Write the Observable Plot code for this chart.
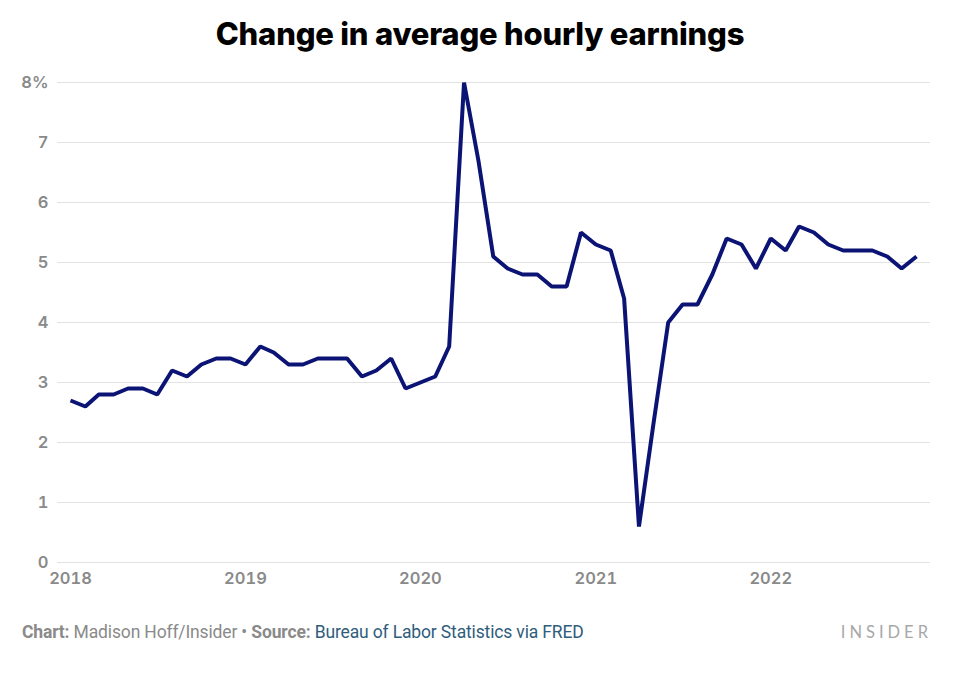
<!DOCTYPE html>
<html>
<head>
<meta charset="utf-8">
<script src="https://cdn.jsdelivr.net/npm/d3@7"></script>
<script src="https://cdn.jsdelivr.net/npm/@observablehq/plot@0.6"></script>
<style>
  html, body { margin: 0; padding: 0; background: #fff; }
  body { width: 960px; height: 677px; position: relative; font-family: Inter, "Noto Sans", sans-serif; overflow: hidden; }
  #title { position: absolute; top: 15px; left: 0; width: 960px; text-align: center; font-size: 31px; font-weight: 800; color: #000; letter-spacing: -0.2px; }
  #chart { position: absolute; top: 60px; left: 0; }
  #footer { position: absolute; top: 622px; left: 22px; font-family: Roboto, "Liberation Sans", sans-serif; font-size: 17.5px; color: #8a8a8a; letter-spacing: -0.15px; }
  #footer b { font-weight: 700; color: #8a8a8a; }
  #footer .src { color: #2f5d7c; }
  #brand { position: absolute; top: 622px; right: 28px; font-family: Lato, "Noto Sans", sans-serif; font-size: 16.5px; letter-spacing: 4px; color: #a8a8a8; font-weight: 400; }
</style>
</head>
<body>
<div id="title">Change in average hourly earnings</div>
<div id="chart"></div>
<div id="footer"><b>Chart:</b> Madison Hoff/Insider • <b>Source:</b> <span class="src">Bureau of Labor Statistics via FRED</span></div>
<div id="brand">INSIDER</div>
<script>
const startYear = 2018;
const values2018 = [2.7, 2.6, 2.8, 2.8, 2.9, 2.9, 2.8, 3.2, 3.1, 3.3, 3.4, 3.4];
const values2019 = [3.3, 3.6, 3.5, 3.3, 3.3, 3.4, 3.4, 3.4, 3.1, 3.2, 3.4, 2.9];
const values2020 = [3.0, 3.1, 3.6, 8.0, 6.7, 5.1, 4.9, 4.8, 4.8, 4.6, 4.6, 5.5];
const values2021 = [5.3, 5.2, 4.4, 0.6, 2.3, 4.0, 4.3, 4.3, 4.8, 5.4, 5.3, 4.9];
const values2022 = [5.4, 5.2, 5.6, 5.5, 5.3, 5.2, 5.2, 5.2, 5.1, 4.9, 5.1];
const yTicks = [0, 1, 2, 3, 4, 5, 6, 7, 8];
const xTickYears = [2018, 2019, 2020, 2021, 2022];

const allValues = [values2018, values2019, values2020, values2021, values2022];
const data = [];
allValues.forEach((arr, yi) => {
  arr.forEach((v, m) => data.push({date: new Date(startYear + yi, m, 1), value: v}));
});
const xTicks = xTickYears.map(y => new Date(y, 0, 1));

const plot = Plot.plot({
  width: 960,
  height: 540,
  marginLeft: 57,
  marginRight: 30,
  marginTop: 22,
  marginBottom: 38,
  style: {fontFamily: "Inter, 'Noto Sans', sans-serif", background: "#fff"},
  x: {type: "utc", domain: [new Date(2018, 0, 1), new Date(2022, 10, 1)], insetLeft: 13, insetRight: 14},
  y: {domain: [0, 8]},
  marks: [
    Plot.ruleY(yTicks, {stroke: "#e3e3e3", strokeWidth: 1}),
    Plot.axisY(yTicks, {
      tickSize: 0, tickPadding: 9, label: null,
      tickFormat: d => d === 8 ? "8%" : String(d),
      fontSize: 16.5, fontWeight: 600, fill: "#8a8a8a"
    }),
    Plot.axisX(xTicks, {
      tickSize: 0, tickPadding: 10, label: null,
      tickFormat: d => String(d.getFullYear()),
      fontSize: 16.5, fontWeight: 600, fill: "#8a8a8a"
    }),
    Plot.line(data, {x: "date", y: "value", stroke: "#0b1475", strokeWidth: 4, strokeLinejoin: "miter", strokeLinecap: "butt"})
  ]
});
document.getElementById("chart").appendChild(plot);
</script>
</body>
</html>
